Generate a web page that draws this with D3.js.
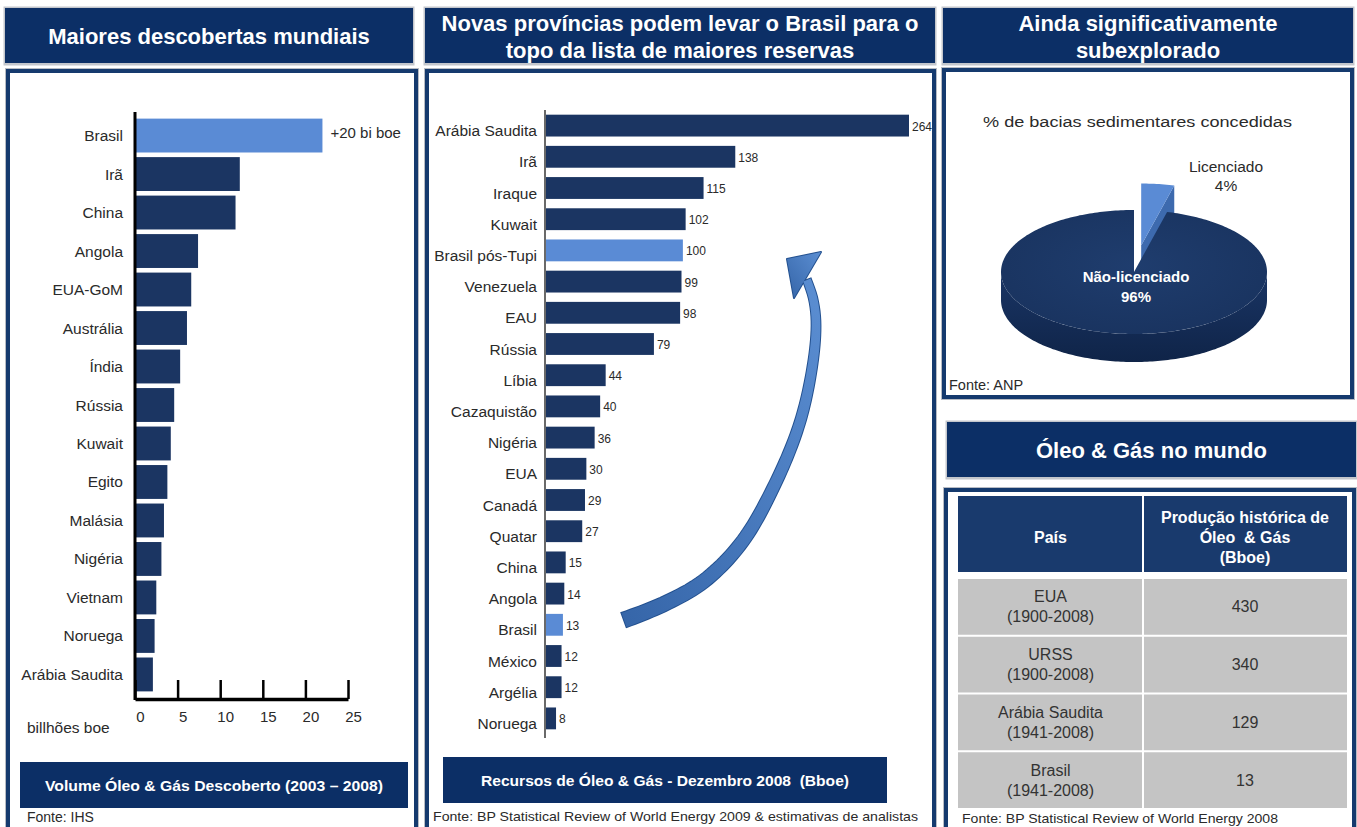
<!DOCTYPE html>
<html>
<head>
<meta charset="utf-8">
<script src="https://cdn.jsdelivr.net/npm/d3@7"></script>
<style>
  html, body { margin: 0; padding: 0; background: #ffffff; }
  svg { display: block; font-family: "Liberation Sans", Arial, sans-serif; }
  text { white-space: pre; }
</style>
</head>
<body>
<svg id="chart" width="1357" height="827"></svg>
<script>
// ---- Data -------------------------------------------------------------
// Maiores descobertas mundiais (bilhões boe, 2003-2008)
const discCountries = ["Brasil", "Irã", "China", "Angola", "EUA-GoM", "Austrália", "Índia",
  "Rússia", "Kuwait", "Egito", "Malásia", "Nigéria", "Vietnam", "Noruega", "Arábia Saudita"];
const discValues = [22, 12.3, 11.8, 7.4, 6.6, 6.1, 5.3, 4.6, 4.2, 3.8, 3.4, 3.1, 2.5, 2.3, 2.1];
const discTicks = [0, 5, 10, 15, 20, 25];
const discHighlight = ["Brasil"];
const discNote = "+20 bi boe";

// Recursos de Óleo & Gás - Dezembro 2008 (Bboe)
const reserveCountries = ["Arábia Saudita", "Irã", "Iraque", "Kuwait", "Brasil pós-Tupi", "Venezuela",
  "EAU", "Rússia", "Líbia", "Cazaquistão", "Nigéria", "EUA", "Canadá", "Quatar", "China", "Angola",
  "Brasil", "México", "Argélia", "Noruega"];
const reserveValues = [264, 138, 115, 102, 100, 99, 98, 79, 44, 40, 36, 30, 29, 27, 15, 14, 13, 12, 12, 8];
const reserveHighlight = ["Brasil pós-Tupi", "Brasil"];

// % de bacias sedimentares concedidas
const pieLabels = ["Licenciado", "Não-licenciado"];
const pieValues = [4, 96];

// Produção histórica de Óleo & Gás (Bboe)
const tableCountries = ["EUA", "URSS", "Arábia Saudita", "Brasil"];
const tablePeriods = ["(1900-2008)", "(1900-2008)", "(1941-2008)", "(1941-2008)"];
const tableValues = [430, 340, 129, 13];

// ---- Styles -----------------------------------------------------------
const NAVY = "#0c2f66";
const BORDER = "#153a6e";
const BAR = "#1b3562";
const LIGHT = "#5a8bd5";
const TXT = "#2a2a2a";

const svg = d3.select("#chart");
const defs = svg.append("defs");

// ---- Helpers ----------------------------------------------------------
function headerBar(x, y, w, h, lines, size, lineYs) {
  svg.append("rect").attr("x", x - 1.5).attr("y", y - 1.5).attr("width", w + 3).attr("height", h + 4)
    .attr("fill", "#c3c6cc");
  svg.append("rect").attr("x", x).attr("y", y).attr("width", w).attr("height", h).attr("fill", NAVY);
  lines.forEach((t, i) => {
    svg.append("text").attr("x", x + w / 2).attr("y", lineYs[i])
      .attr("text-anchor", "middle").attr("dominant-baseline", "central")
      .attr("fill", "#ffffff").attr("font-weight", "bold").attr("font-size", size)
      .text(t);
  });
}
function frame(x, y, w, h) {
  svg.append("rect").attr("x", x).attr("y", y).attr("width", w).attr("height", h)
    .attr("fill", "none").attr("stroke", "#b8bcc4").attr("stroke-width", 6);
  svg.append("rect").attr("x", x).attr("y", y).attr("width", w).attr("height", h)
    .attr("fill", "#ffffff").attr("stroke", BORDER).attr("stroke-width", 4);
}
function footBar(x, y, w, h, label, len) {
  svg.append("rect").attr("x", x).attr("y", y).attr("width", w).attr("height", h).attr("fill", NAVY);
  svg.append("text").attr("x", x + w / 2).attr("y", y + h / 2)
    .attr("text-anchor", "middle").attr("dominant-baseline", "central")
    .attr("fill", "#ffffff").attr("font-weight", "bold").attr("font-size", 15)
    .attr("textLength", len).attr("lengthAdjust", "spacingAndGlyphs").text(label);
}
function note(x, y, label, size, len) {
  const t = svg.append("text").attr("x", x).attr("y", y).attr("dominant-baseline", "central")
    .attr("fill", TXT).attr("font-size", size).text(label);
  if (len) t.attr("textLength", len).attr("lengthAdjust", "spacingAndGlyphs");
  return t;
}

// ---- Panel frames and titles -----------------------------------------
headerBar(5, 8, 408, 55, ["Maiores descobertas mundiais"], 22, [36]);
headerBar(425, 8, 510, 55, ["Novas províncias podem levar o Brasil para o", "topo da lista de maiores reservas"], 22, [23, 50]);
headerBar(943, 8, 410, 55, ["Ainda significativamente", "subexplorado"], 22, [23, 50]);

frame(8, 71, 408, 800);
frame(427, 71, 507, 800);
frame(944, 70, 408, 327);

headerBar(947, 422, 409, 55, ["Óleo & Gás no mundo"], 22, [450]);
frame(946, 490, 408, 400);

// ---- Left: Maiores descobertas mundiais -------------------------------
{
  const x = d3.scaleLinear().domain([0, 25]).range([135, 348]);
  const y = d3.scaleBand().domain(discCountries).range([114, 696]).padding(0.12);
  const data = discCountries.map((c, i) => ({ c, v: discValues[i] }));

  svg.append("g").selectAll("rect").data(data).join("rect")
    .attr("x", x(0) + 1).attr("y", d => y(d.c))
    .attr("width", d => x(d.v) - x(0) - 1).attr("height", y.bandwidth())
    .attr("fill", d => discHighlight.includes(d.c) ? LIGHT : BAR);

  svg.append("g").selectAll("text").data(data).join("text")
    .attr("x", 123).attr("y", d => y(d.c) + y.bandwidth() / 2)
    .attr("text-anchor", "end").attr("dominant-baseline", "central")
    .attr("font-size", 15.5).attr("fill", TXT).text(d => d.c);

  svg.append("text").attr("x", x(discValues[0]) + 8).attr("y", y(discCountries[0]) + 14)
    .attr("dominant-baseline", "central").attr("font-size", 15).attr("fill", TXT).text(discNote);

  // vertical axis line
  svg.append("line").attr("x1", x(0)).attr("x2", x(0)).attr("y1", 112).attr("y2", 700)
    .attr("stroke", "#000").attr("stroke-width", 3);

  const ax = svg.append("g").attr("transform", "translate(0,699)")
    .call(d3.axisBottom(x).tickValues(discTicks).tickSizeInner(-19).tickSizeOuter(0).tickPadding(12));
  ax.select(".domain").attr("stroke", "#000").attr("stroke-width", 3.5);
  ax.selectAll(".tick line").attr("stroke", "#000").attr("stroke-width", 2.5);
  ax.selectAll(".tick text").attr("font-size", 15).attr("fill", TXT).attr("dx", 5)
    .attr("font-family", "Liberation Sans, Arial, sans-serif");

  note(27, 727, "billhões boe", 15.5);
  footBar(20, 762, 388, 46, "Volume Óleo & Gás Descoberto (2003 – 2008)", 338);
  note(27, 817, "Fonte: IHS", 14);
}

// ---- Middle: Novas províncias ----------------------------------------
{
  const x = d3.scaleLinear().domain([0, 264]).range([545, 909]);
  const y = d3.scaleBand().domain(reserveCountries).range([110, 734]).paddingInner(0.3).paddingOuter(0.15);
  const data = reserveCountries.map((c, i) => ({ c, v: reserveValues[i] }));

  svg.append("g").selectAll("rect").data(data).join("rect")
    .attr("x", x(0) + 1).attr("y", d => y(d.c))
    .attr("width", d => x(d.v) - x(0) - 1).attr("height", y.bandwidth())
    .attr("fill", d => reserveHighlight.includes(d.c) ? LIGHT : BAR);

  svg.append("g").selectAll("text.cat").data(data).join("text")
    .attr("x", 537).attr("y", d => y(d.c) + y.bandwidth() / 2 + 5)
    .attr("text-anchor", "end").attr("dominant-baseline", "central")
    .attr("font-size", 15.5).attr("fill", TXT).text(d => d.c);

  svg.append("g").selectAll("text.val").data(data).join("text")
    .attr("x", d => x(d.v) + 3).attr("y", d => y(d.c) + y.bandwidth() / 2 + 1)
    .attr("dominant-baseline", "central")
    .attr("font-size", 12).attr("fill", TXT).text(d => d.v);

  svg.append("line").attr("x1", x(0)).attr("x2", x(0)).attr("y1", 110).attr("y2", 738)
    .attr("stroke", "#444").attr("stroke-width", 1.6);

  // curved arrow from Brasil to Brasil pós-Tupi
  const grad = defs.append("linearGradient").attr("id", "arrowGrad")
    .attr("x1", "0").attr("y1", "1").attr("x2", "1").attr("y2", "0");
  grad.append("stop").attr("offset", "0").attr("stop-color", "#3565a8");
  grad.append("stop").attr("offset", "1").attr("stop-color", "#5b8ed2");

  const guide = [[624, 620], [664, 604], [704, 581], [742, 542], [775, 484], [800, 422],
    [813, 362], [816, 322], [813, 298], [807, 280]];
  const tmp = svg.append("path").attr("d", d3.line().curve(d3.curveCatmullRom)(guide)).attr("fill", "none");
  const node = tmp.node();
  const L = node.getTotalLength();
  const N = 90, left = [], right = [];
  for (let i = 0; i <= N; i++) {
    const s = L * i / N;
    const p = node.getPointAtLength(s);
    const q = node.getPointAtLength(Math.min(L, s + 1));
    const r = node.getPointAtLength(Math.max(0, s - 1));
    let tx = q.x - r.x, ty = q.y - r.y;
    const m = Math.hypot(tx, ty) || 1; tx /= m; ty /= m;
    const w = (15 - 7 * (i / N)) / 2;
    left.push([p.x - ty * w, p.y + tx * w]);
    right.push([p.x + ty * w, p.y - tx * w]);
  }
  tmp.remove();
  const shaft = "M" + left.map(p => p.join(",")).join("L") + "L" + right.reverse().map(p => p.join(",")).join("L") + "Z";
  const head = "M794,298L787,259L821,252Z";
  const ag = svg.append("g");
  ag.append("path").attr("d", shaft).attr("fill", "none").attr("stroke", "#22508f").attr("stroke-width", 2);
  ag.append("path").attr("d", head).attr("fill", "none").attr("stroke", "#22508f").attr("stroke-width", 2).attr("stroke-linejoin", "round");
  ag.append("path").attr("d", shaft).attr("fill", "url(#arrowGrad)");
  ag.append("path").attr("d", head).attr("fill", "url(#arrowGrad)");

  footBar(443, 757, 444, 46, "Recursos de Óleo & Gás - Dezembro 2008  (Bboe)", 368);
  note(433, 816, "Fonte: BP Statistical Review of World Energy 2009 & estimativas de analistas", 13, 485);
}

// ---- Right top: 3D pie ------------------------------------------------
{
  note(983, 121, "% de bacias sedimentares concedidas", 15.5, 309);

  const cx = 1134, cy = 272, rx = 133, ry = 62, depth = 28;
  const arcs = d3.pie().sort(null).value(d => d)(pieValues);
  const P = (t, dx, dy, dz) => [cx + dx + rx * Math.sin(t), cy + dy - ry * Math.cos(t) + dz];
  const rim = (a0, a1, dx, dy, dz) => {
    const n = Math.max(2, Math.ceil((a1 - a0) / 0.02));
    return d3.range(n + 1).map(i => P(a0 + (a1 - a0) * i / n, dx, dy, dz));
  };
  const poly = pts => "M" + pts.map(p => p.join(",")).join("L") + "Z";

  const sideGrad = defs.append("linearGradient").attr("id", "pieSide").attr("x1", 0).attr("y1", 0).attr("x2", 0).attr("y2", 1);
  sideGrad.append("stop").attr("offset", 0).attr("stop-color", "#1a3565");
  sideGrad.append("stop").attr("offset", 1).attr("stop-color", "#0f2448");
  const topGrad = defs.append("radialGradient").attr("id", "pieTop").attr("cx", "0.5").attr("cy", "0.45").attr("r", "0.6");
  topGrad.append("stop").attr("offset", 0).attr("stop-color", "#1f3d6e");
  topGrad.append("stop").attr("offset", 1).attr("stop-color", "#19335f");

  const styles = [
    { top: LIGHT, side: "#3b68ab", cut: "#3d6aae", explode: 0.43 },
    { top: "url(#pieTop)", side: "url(#pieSide)", cut: "#14294f", explode: 0 }
  ];
  const g = svg.append("g");
  arcs.forEach((a, i) => {
    const st = styles[i];
    const mid = (a.startAngle + a.endAngle) / 2;
    const dx = rx * st.explode * Math.sin(mid), dy = -ry * st.explode * Math.cos(mid);
    const c0 = [cx + dx, cy + dy], c1 = [cx + dx, cy + dy + depth];
    // outer wall on the front half
    const f0 = Math.max(a.startAngle, Math.PI / 2), f1 = Math.min(a.endAngle, 3 * Math.PI / 2);
    if (f1 > f0) {
      g.append("path").attr("d", poly(rim(f0, f1, dx, dy, 0).concat(rim(f0, f1, dx, dy, depth).reverse())))
        .attr("fill", st.side);
    }
    // radial cut faces facing the viewer
    if (Math.sin(a.startAngle) < -1e-6) {
      g.append("path").attr("d", poly([c0, P(a.startAngle, dx, dy, 0), P(a.startAngle, dx, dy, depth), c1])).attr("fill", st.cut);
    }
    if (Math.sin(a.endAngle) > 1e-6) {
      g.append("path").attr("d", poly([c0, P(a.endAngle, dx, dy, 0), P(a.endAngle, dx, dy, depth), c1])).attr("fill", st.cut);
    }
    g.append("path").attr("d", poly([c0].concat(rim(a.startAngle, a.endAngle, dx, dy, 0)))).attr("fill", st.top);
  });

  const lt = svg.append("g").attr("text-anchor", "middle").attr("dominant-baseline", "central");
  lt.append("text").attr("x", 1226).attr("y", 166).attr("font-size", 15.5).attr("fill", TXT).text(pieLabels[0]);
  lt.append("text").attr("x", 1226).attr("y", 185).attr("font-size", 15.5).attr("fill", TXT).text(pieValues[0] + "%");
  lt.append("text").attr("x", 1136).attr("y", 276).attr("font-size", 15).attr("fill", "#ffffff").attr("font-weight", "bold").text(pieLabels[1]);
  lt.append("text").attr("x", 1136).attr("y", 296).attr("font-size", 15).attr("fill", "#ffffff").attr("font-weight", "bold").text(pieValues[1] + "%");

  note(949, 385, "Fonte: ANP", 14.5);
}

// ---- Right bottom: table ----------------------------------------------
{
  const c0 = 958, cMid = 1143, c1 = 1347;
  const hy0 = 496, hy1 = 572;
  svg.append("rect").attr("x", c0).attr("y", hy0).attr("width", cMid - c0 - 1).attr("height", hy1 - hy0).attr("fill", "#193a6d");
  svg.append("rect").attr("x", cMid + 1).attr("y", hy0).attr("width", c1 - cMid - 1).attr("height", hy1 - hy0).attr("fill", "#193a6d");
  const ht = svg.append("g").attr("fill", "#ffffff").attr("font-weight", "bold").attr("font-size", 16)
    .attr("text-anchor", "middle").attr("dominant-baseline", "central");
  ht.append("text").attr("x", (c0 + cMid) / 2).attr("y", 537).text("País");
  ["Produção histórica de", "Óleo  & Gás", "(Bboe)"].forEach((t, i) =>
    ht.append("text").attr("x", (cMid + c1) / 2).attr("y", 517 + i * 20).text(t));

  const rowY = d3.scaleBand().domain(tableCountries).range([579, 808]).paddingInner(0.035);
  const rows = tableCountries.map((c, i) => ({ c, p: tablePeriods[i], v: tableValues[i] }));
  const rg = svg.append("g").selectAll("g").data(rows).join("g")
    .attr("transform", d => `translate(0,${rowY(d.c)})`);
  rg.append("rect").attr("x", c0).attr("width", cMid - c0 - 1).attr("height", rowY.bandwidth()).attr("fill", "#c4c4c4");
  rg.append("rect").attr("x", cMid + 1).attr("width", c1 - cMid - 1).attr("height", rowY.bandwidth()).attr("fill", "#c4c4c4");
  const cell = sel => sel.attr("text-anchor", "middle").attr("dominant-baseline", "central")
    .attr("font-size", 16).attr("fill", "#333");
  rg.append("text").call(cell).attr("x", (c0 + cMid) / 2).attr("y", rowY.bandwidth() / 2 - 10).text(d => d.c);
  rg.append("text").call(cell).attr("x", (c0 + cMid) / 2).attr("y", rowY.bandwidth() / 2 + 10).text(d => d.p);
  rg.append("text").call(cell).attr("x", (cMid + c1) / 2).attr("y", rowY.bandwidth() / 2).text(d => d.v);

  note(962, 818, "Fonte: BP Statistical Review of World Energy 2008", 13, 316);
}
</script>
</body>
</html>
